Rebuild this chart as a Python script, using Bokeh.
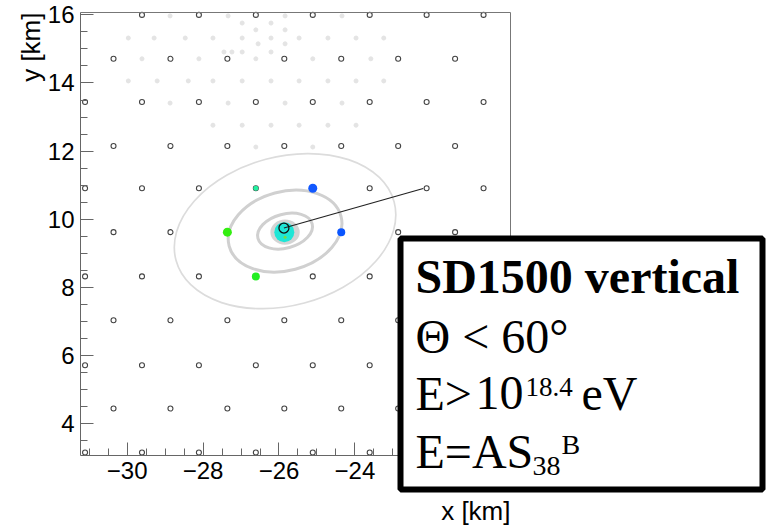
from bokeh.plotting import figure
from bokeh.models import Range1d, FixedTicker, Label, BoxAnnotation, LinearAxis
from bokeh.embed import file_html
from bokeh.resources import INLINE

# ---------------- data (km) ----------------
# regular 1500 m grid: two interleaved row types
rows_a_y = [16.0, 13.44, 10.91, 8.32, 5.71, 3.15]
cols_a_x = [-31.11, -29.61, -28.11, -26.61, -25.11, -23.61, -22.11, -20.61]
rows_b_y = [14.71, 12.15, 9.62, 7.03, 4.44]
cols_b_x = [-30.36, -28.86, -27.36, -25.86, -24.36, -22.86, -21.36]

# infill (light) stations
infill_x = [-28.87, -27.34, -25.84, -24.34,
            -26.97, -26.21,
            -26.61, -25.84,
            -29.97, -29.29, -28.47, -27.74, -26.97, -26.21, -25.47, -24.71, -23.97, -23.24,
            -26.55, -25.84,
            -27.45, -27.24, -26.97, -26.21,
            -29.61, -28.11, -26.61, -25.11, -23.58,
            -29.97, -29.21, -28.39, -27.74, -26.97, -26.21, -25.47, -24.71, -23.97, -23.24,
            -28.87, -27.34, -25.84, -24.34,
            -27.74, -26.97, -26.21, -25.47, -24.71, -23.97,
            -26.61, -25.11]
infill_y = [15.97, 15.97, 15.97, 15.97,
            15.76, 15.76,
            15.56, 15.56,
            15.32, 15.32, 15.32, 15.32, 15.32, 15.32, 15.32, 15.32, 15.32, 15.32,
            15.15, 15.15,
            14.91, 14.91, 14.91, 14.91,
            14.71, 14.71, 14.71, 14.71, 14.71,
            14.06, 14.06, 14.06, 14.06, 14.06, 14.06, 14.06, 14.06, 14.06, 14.06,
            13.41, 13.41, 13.41, 13.41,
            12.76, 12.76, 12.76, 12.76, 12.76, 12.76,
            12.12, 12.12]

# triggered stations
hit_x = [-25.86, -27.36, -26.61, -26.61, -25.11, -24.36, -25.84]
hit_y = [9.62, 9.62, 8.32, 10.91, 10.91, 9.62, 9.47]
hit_color = ["#1ee6d6", "#33ee11", "#22ee22", "#22f0a0", "#1158ff", "#0a55ff", "#77dd44"]
hit_px = [20, 9, 8, 5, 9, 8, 3]

# shower core and axis projection
core_x = [-25.87]
core_y = [9.74]
axis_x = [-25.87, -22.2]
axis_y = [9.74, 10.9]

# ellipses (lateral distance contours)
ell_x = [-25.84, -25.84, -25.84, -25.84]
ell_y = [9.65, 9.65, 9.65, 9.62]
ell_w = [5.95, 3.05, 1.48, 0.72]
ell_h = [4.37, 2.32, 1.0, 0.68]
ell_angle_deg = 15

x_ticks = [-30, -28, -26, -24, -22, -20]
x_tick_labels = ["\u221230", "\u221228", "\u221226", "\u221224", "\u221222", "\u221220"]
y_ticks = [4, 6, 8, 10, 12, 14, 16]

# visible plot window (km)
X0, X1 = -31.23, -19.9
Y0, Y1 = 3.06, 16.07

# ---------------- figure ----------------
# The frame covers the whole canvas so that the legend box (which overlaps the
# plot window and the margins, as in the original) is not clipped; the axes
# are drawn at the plot-window edges with fixed_location.
W, H = 770, 528
PX0, PX1, PY0, PY1 = 80, 510, 455, 12          # window edges in canvas px
sx = (X1 - X0) / (PX1 - PX0)
sy = (Y1 - Y0) / (PY0 - PY1)
p = figure(width=W, height=H,
           x_range=Range1d(X0 - PX0 * sx, X1 + (W - PX1) * sx),
           y_range=Range1d(Y0 - (H - PY0) * sy, Y1 + PY1 * sy),
           x_axis_type=None, y_axis_type=None, min_border=0,
           output_backend="svg", toolbar_location=None)
p.background_fill_color = "white"
p.border_fill_color = "white"
p.outline_line_color = None
p.grid.visible = False


def style_axis(ax):
    ax.axis_line_color = "#666666"
    ax.major_tick_line_color = "#666666"
    ax.minor_tick_line_color = "#666666"
    ax.major_tick_in = 13
    ax.major_tick_out = 0
    ax.minor_tick_in = 7
    ax.minor_tick_out = 0
    ax.major_label_text_font = "Liberation Sans"
    ax.major_label_text_font_size = "24px"
    ax.major_label_text_color = "black"
    ax.major_label_standoff = 6


xaxis = LinearAxis(fixed_location=Y0, bounds=(X0, X1),
                   ticker=FixedTicker(ticks=x_ticks,
                                      minor_ticks=[-31 + 0.5 * i for i in range(23)]),
                   major_label_overrides={float(t): l for t, l in zip(x_ticks, x_tick_labels)})
yaxis = LinearAxis(fixed_location=X0, bounds=(Y0, Y1),
                   ticker=FixedTicker(ticks=y_ticks,
                                      minor_ticks=[3.5 + 0.5 * i for i in range(26)]))
style_axis(xaxis)
style_axis(yaxis)

topaxis = LinearAxis(fixed_location=Y1, bounds=(X0, X1), ticker=FixedTicker(ticks=[]),
                     axis_line_color="#777777", major_label_text_alpha=0)
rightaxis = LinearAxis(fixed_location=X1, bounds=(Y0, Y1), ticker=FixedTicker(ticks=[]),
                       axis_line_color="#777777", major_label_text_alpha=0)
p.add_layout(xaxis, "below")
p.add_layout(yaxis, "left")
p.add_layout(topaxis, "above")
p.add_layout(rightaxis, "right")

# ellipses
p.ellipse(ell_x[3:], ell_y[3:], width=ell_w[3:], height=ell_h[3:],
          fill_color="#d4d4d4", line_color="#d4d4d4", line_width=2)
p.ellipse(ell_x[:1], ell_y[:1], width=ell_w[:1], height=ell_h[:1],
          angle=ell_angle_deg, angle_units="deg",
          fill_color=None, line_color="#dcdcdc", line_width=1.7)
p.ellipse(ell_x[1:3], ell_y[1:3], width=ell_w[1:3], height=ell_h[1:3],
          angle=ell_angle_deg, angle_units="deg",
          fill_color=None, line_color="#d0d0d0", line_width=3)

# infill stations
p.scatter(infill_x, infill_y, size=4, fill_color="#e4e4e4", line_color="#e4e4e4")

# regular grid stations
gx, gy = [], []
for r, yv in enumerate(rows_a_y):
    for c, xv in enumerate(cols_a_x):
        if r == 0 and c == 0:
            continue
        gx.append(xv)
        gy.append(yv)
for yv in rows_b_y:
    for xv in cols_b_x:
        gx.append(xv)
        gy.append(yv)
p.scatter(gx, gy, size=5, fill_color=None, line_color="#444444", line_width=1.1)

# triggered stations
p.scatter(hit_x, hit_y, size=hit_px, fill_color=hit_color, line_color=None)

# shower axis and core
p.line(axis_x, axis_y, line_color="#222222", line_width=1.2)
p.scatter(core_x, core_y, size=10, fill_color=None, line_color="#111111", line_width=1.3)

# axis titles (ROOT style, aligned to the axis ends); screen units = canvas px, y up
p.add_layout(Label(x=30, y=H - 12, x_units="screen", y_units="screen", text="y [km]",
                   angle=90, angle_units="deg", text_align="right",
                   text_baseline="middle", text_font="Liberation Sans",
                   text_font_size="26px", text_color="black"))
p.add_layout(Label(x=510, y=H - 510, x_units="screen", y_units="screen", text="x [km]",
                   text_align="right", text_baseline="middle",
                   text_font="Liberation Sans", text_font_size="26px",
                   text_color="black"))

# legend box
p.add_layout(BoxAnnotation(left=400, right=762, top=H - 238, bottom=H - 489,
                           left_units="screen", right_units="screen",
                           top_units="screen", bottom_units="screen",
                           fill_color="white", fill_alpha=1.0,
                           line_color="black", line_width=6, line_alpha=1.0,
                           level="overlay"))


def txt(x, y, s, size, bold=False):
    # y: wanted baseline in canvas px (from top); small empirical correction
    p.add_layout(Label(x=x, y=H - y + 0.3 * size, x_units="screen", y_units="screen",
                       text=s, text_font="Liberation Serif",
                       text_font_size=f"{size}px",
                       text_font_style="bold" if bold else "normal",
                       text_baseline="alphabetic", text_align="left",
                       text_color="black", level="overlay"))


txt(415, 290, "SD1500 vertical", 48, bold=True)
txt(415, 350, "\u0398 < 60\u00b0", 48)
txt(415, 407, "E>", 48)
txt(475, 407, "10", 48)
txt(525, 395, "18.4", 27)
txt(581, 407, "eV", 48)
txt(415, 465, "E=AS", 48)
txt(532, 474, "38", 28)
txt(561, 452, "B", 28)

open("out.html", "w").write(file_html(p, INLINE))
